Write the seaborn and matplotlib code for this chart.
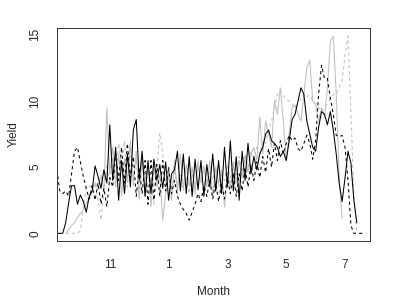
import numpy as np
import pandas as pd
import matplotlib
matplotlib.use("Agg")
import matplotlib.pyplot as plt
import seaborn as sns

# Yield por mês (x = mês contínuo: 11 = nov, 13 = jan, 15 = mar, 17 = mai, 19 = jul)
passo = 0.1

inicio_preto = 9.2
yield_preto = [0, 0, 0, 0.8, 2.3, 3.6, 3.6, 2.2, 2.9, 2.4,
               1.6, 2.8, 3.2, 5.1, 4.3, 3.4, 4.8, 3.8, 8.2, 4.0,
               6.5, 2.5, 5.5, 3.0, 6.0, 3.5, 7.8, 8.6, 4.0, 6.2,
               2.8, 5.5, 3.0, 5.6, 4.0, 5.2, 3.4, 5.4, 2.5, 4.5,
               4.8, 6.2, 3.2, 6.0, 3.0, 5.8, 2.8, 5.6, 3.3, 5.5,
               2.8, 5.2, 3.5, 6.0, 3.2, 5.5, 3.0, 6.5, 3.5, 7.0,
               3.2, 5.8, 2.5, 6.2, 4.0, 6.8, 4.5, 5.8, 4.8, 6.0,
               6.5, 7.5, 7.8, 7.0, 6.8, 6.5, 5.8, 6.2, 5.5, 7.0,
               8.6, 9.0, 10.0, 11.0, 10.5, 8.5, 7.5, 6.5, 6.2, 8.0,
               9.2, 9.0, 8.2, 9.2, 7.8, 6.0, 3.8, 2.4, 4.2, 6.2,
               5.3, 2.5, 0.8]

inicio_preto_tr = 9.2
yield_preto_tr = [4.8, 3.2, 3.0, 3.2, 2.8, 4.5, 6.2, 6.5, 5.4, 4.3,
                  3.4, 2.6, 3.6, 2.5, 3.8, 2.2, 3.4, 2.0, 4.2, 3.5,
                  6.0, 4.0, 6.5, 3.8, 6.8, 4.2, 5.8, 2.8, 5.0, 3.0,
                  5.5, 2.2, 5.5, 2.5, 5.2, 2.8, 5.5, 3.2, 5.0, 3.0,
                  4.0, 2.8, 2.2, 1.8, 1.5, 1.0, 1.6, 2.2, 3.0, 2.4,
                  3.6, 2.8, 4.0, 2.6, 3.8, 2.4, 3.8, 2.6, 4.2, 3.0,
                  4.6, 2.8, 4.5, 3.2, 5.0, 3.5, 5.2, 4.0, 5.4, 4.2,
                  5.8, 4.6, 6.4, 5.0, 6.8, 5.5, 7.0, 6.0, 6.8, 7.4,
                  7.0, 7.2, 6.4, 6.2, 6.8, 7.4, 6.8, 5.6, 7.0, 10.5,
                  12.7, 11.7, 11.7, 10.2, 9.0, 7.4, 7.3, 7.4, 6.5, 4.0,
                  0.6, 0, 0, 0, 0, 0]

inicio_cinza = 9.5
yield_cinza = [0, 0.3, 0.6, 0.8, 1.2, 1.5, 1.8, 2.3, 2.6, 3.2,
               3.8, 3.4, 4.4, 3.2, 9.5, 4.5, 6.5, 3.5, 6.0, 2.8,
               5.6, 4.0, 7.0, 3.6, 6.2, 2.5, 5.8, 2.8, 5.2, 2.0,
               5.0, 3.5, 4.4, 1.0, 3.0, 4.5, 2.5, 5.5, 3.0, 6.0,
               3.4, 5.2, 3.6, 5.0, 3.0, 5.5, 3.8, 5.0, 3.5, 5.5,
               2.8, 5.0, 3.8, 4.8, 2.0, 4.6, 3.5, 5.2, 3.8, 5.5,
               4.2, 5.8, 4.6, 6.0, 6.5, 5.5, 8.8, 6.0, 8.5, 7.5,
               6.5, 10.0, 9.0, 11.0, 8.5, 5.5, 7.5, 9.5, 9.7, 9.0,
               8.5, 10.5, 12.5, 13.1, 10.0, 9.7, 8.5, 9.5, 8.8, 11.0,
               14.5, 14.9, 10.5, 4.4, 1.1]

inicio_cinza_tr = 9.5
yield_cinza_tr = [0, 0, 0, 0, 0, 0.2, 2.0, 3.5, 3.6, 3.4,
                  3.8, 2.5, 1.0, 3.0, 5.2, 3.8, 5.8, 4.2, 6.8, 5.0,
                  7.0, 3.5, 6.5, 4.2, 5.6, 3.2, 6.0, 4.5, 3.5, 4.0,
                  2.2, 5.0, 7.6, 6.0, 3.5, 5.0, 3.2, 4.6, 3.8, 4.4,
                  3.2, 4.2, 3.0, 4.5, 3.6, 5.0, 4.0, 5.2, 3.8, 4.8,
                  4.0, 5.0, 3.5, 4.5, 4.0, 5.2, 4.2, 5.5, 4.4, 5.8,
                  4.6, 6.0, 5.0, 6.2, 5.5, 6.5, 6.0, 7.0, 6.8, 7.8,
                  8.5, 9.5, 10.5, 10.8, 10.4, 10.1, 10.0, 9.8, 9.5, 9.8,
                  10.2, 10.5, 10.3, 10.5, 10.0, 9.8, 9.5, 9.2, 9.5, 9.8,
                  10.2, 10.5, 10.5, 11.0, 11.5, 13.5, 14.9, 9.2, 2.9, 0]

meses_ticks = [11, 13, 15, 17, 19]
meses_labels = ['11', '1', '3', '5', '7']
yield_ticks = [0, 5, 10, 15]


def serie(inicio, valores):
    return pd.DataFrame({'Month': inicio + passo * np.arange(len(valores)),
                         'Yield': valores})


sns.set_style("white")
plt.rcParams['font.family'] = ['Liberation Sans', 'DejaVu Sans']

fig = plt.figure(figsize=(3.99, 2.99), dpi=100)
ax = fig.add_axes([0.143, 0.194, 0.784, 0.712])

cinza = '#bebebe'
lw = 0.75
tracejado = (0, (3, 3))
sns.lineplot(data=serie(inicio_cinza, yield_cinza), x='Month', y='Yield',
             color=cinza, linewidth=lw, ax=ax)
sns.lineplot(data=serie(inicio_cinza_tr, yield_cinza_tr), x='Month', y='Yield',
             color=cinza, linewidth=lw, linestyle=tracejado, ax=ax)
sns.lineplot(data=serie(inicio_preto_tr, yield_preto_tr), x='Month', y='Yield',
             color='black', linewidth=lw, linestyle=tracejado, ax=ax)
sns.lineplot(data=serie(inicio_preto, yield_preto), x='Month', y='Yield',
             color='black', linewidth=lw, ax=ax)

ax.set_xlim(9.207, 19.844)
ax.set_ylim(-0.58, 15.51)
ax.set_xticks(meses_ticks)
ax.set_xticklabels(meses_labels)
ax.set_yticks(yield_ticks)
ax.tick_params(axis='both', direction='out', length=4.3, width=0.7,
               color='#333333', labelsize=8.5, pad=8.5)
ax.tick_params(axis='y', labelrotation=90, pad=7)
for lab in ax.get_yticklabels():
    lab.set_verticalalignment('center')
for sp in ax.spines.values():
    sp.set_color('#333333')
    sp.set_linewidth(0.7)

ax.set_xlabel('Month', fontsize=8.5, labelpad=11)
ax.set_ylabel('Yield', fontsize=8.5, labelpad=7)

fig.savefig('out.png', dpi=100)
